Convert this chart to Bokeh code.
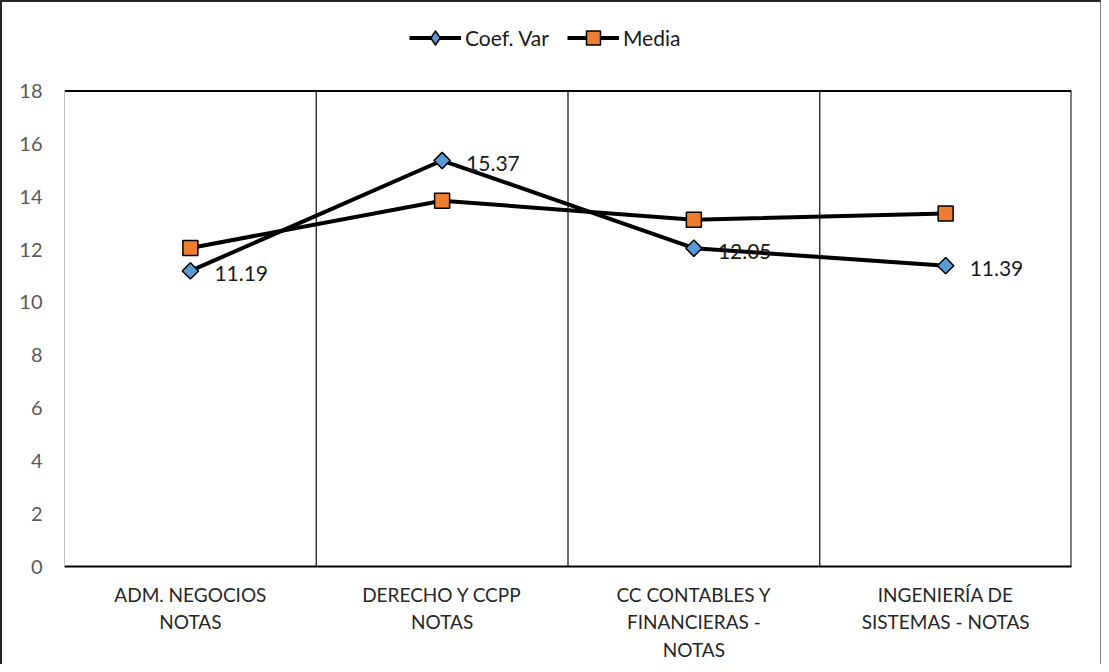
import numpy as np
from bokeh.plotting import figure
from bokeh.models import (Range1d, FixedTicker, Legend, LegendItem, ColumnDataSource)
from bokeh.core.properties import value
from bokeh.embed import file_html
from bokeh.resources import INLINE

# ---- data ----
categories = ["ADM. NEGOCIOS NOTAS", "DERECHO Y CCPP NOTAS",
              "CC CONTABLES Y FINANCIERAS - NOTAS", "INGENIERÍA DE SISTEMAS - NOTAS"]
tick_labels = ["ADM. NEGOCIOS\nNOTAS", "DERECHO Y CCPP\nNOTAS",
               "CC CONTABLES Y\nFINANCIERAS -\nNOTAS", "INGENIERÍA DE\nSISTEMAS - NOTAS"]
coef_var = [11.19, 15.37, 12.05, 11.39]
media = [12.06, 13.85, 13.13, 13.36]
coef_labels = ["11.19", "15.37", "12.05", "11.39"]
y_ticks = [0, 2, 4, 6, 8, 10, 12, 14, 16, 18]

FONT = "Lato"
n = len(categories)
xs = [i + 0.5 for i in range(n)]
y_max = y_ticks[-1]
AXIS_PX = 472          # height of the 0..18 axis in pixels
FRAME_PX = 550         # frame height incl. legend band
y_top = y_max * FRAME_PX / AXIS_PX

p = figure(width=1101, height=664, output_backend="svg", toolbar_location=None,
           x_range=Range1d(0, n), y_range=Range1d(0, y_top),
           min_border_left=62, min_border_right=32, min_border_bottom=100, min_border_top=10)
p.styles = {"border-top": "2px solid #262626", "border-left": "2px solid #262626",
            "border-right": "1px solid #808080", "box-sizing": "border-box"}
p.outline_line_color = None
p.background_fill_color = "white"
p.border_fill_color = "white"

# axes
p.xaxis.ticker = FixedTicker(ticks=xs)
p.xaxis.major_label_overrides = {x: lab for x, lab in zip(xs, tick_labels)}
p.xaxis.major_tick_line_color = None
p.xaxis.minor_tick_line_color = None
p.xaxis.axis_line_color = "black"
p.xaxis.axis_line_width = 2
p.xaxis.major_label_text_font = FONT
p.xaxis.major_label_text_font_size = "19px"
p.xaxis.major_label_text_color = "#262626"
p.xaxis.major_label_standoff = 10

p.yaxis.ticker = FixedTicker(ticks=y_ticks)
p.yaxis.bounds = (0, y_max)
p.yaxis.major_tick_line_color = None
p.yaxis.minor_tick_line_color = None
p.yaxis.axis_line_color = "#bfbfbf"
p.yaxis.axis_line_width = 1
p.yaxis.major_label_text_font = FONT
p.yaxis.major_label_text_font_size = "20px"
p.yaxis.major_label_text_color = "#595959"
p.yaxis.major_label_standoff = 16

p.ygrid.grid_line_color = None
p.xgrid.grid_line_color = None

# category separators, right and top border of plot area
seps = list(range(1, n))
p.segment(x0=seps, y0=[0] * len(seps), x1=seps, y1=[y_max] * len(seps),
          line_color="#1a1a1a", line_width=1.3)
p.segment(x0=[n], y0=[0], x1=[n], y1=[y_max], line_color="black", line_width=2)
p.segment(x0=[0], y0=[y_max], x1=[n], y1=[y_max], line_color="black", line_width=2)

src = ColumnDataSource(dict(x=xs, cv=coef_var, m=media, lab=coef_labels))

l1 = p.line("x", "cv", source=src, line_color="black", line_width=4)
# diamond glyph used for the legend (hidden under the rotated-square markers)
leg_d = p.scatter("x", "cv", source=src, marker="diamond", size=9,
                  fill_color="#5B9BD5", line_color="black", line_width=1.5)
s1 = p.scatter("x", "cv", source=src, marker="square", angle=np.pi / 4, size=11.5,
               fill_color="#5B9BD5", line_color="black", line_width=1.5)
l2 = p.line("x", "m", source=src, line_color="black", line_width=4)
s2 = p.scatter("x", "m", source=src, marker="square", size=15,
               fill_color="#ED7D31", line_color="black", line_width=1.5)

p.text("x", "cv", text="lab", source=src, x_offset=24, y_offset=3,
       text_font=value(FONT), text_font_size="21px", text_color="#1a1a1a",
       text_baseline="middle", text_align="left")

legend = Legend(items=[LegendItem(label="Coef. Var", renderers=[l1, leg_d]),
                       LegendItem(label="Media", renderers=[l2, s2])],
                orientation="horizontal", location=(345, 511),
                label_text_font=FONT, label_text_font_size="21px", label_text_color="#1a1a1a",
                glyph_width=52, glyph_height=35, spacing=18, label_standoff=4,
                border_line_color=None, background_fill_alpha=0,
                margin=0, padding=4)
p.add_layout(legend, "center")

open("out.html", "w").write(file_html(p, INLINE))
